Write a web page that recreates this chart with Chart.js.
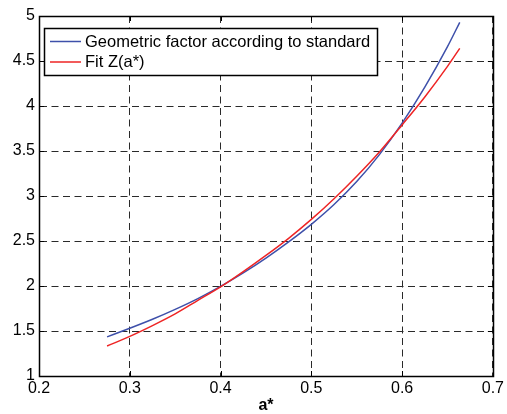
<!DOCTYPE html>
<html><head><meta charset="utf-8">
<script src="https://cdn.jsdelivr.net/npm/chart.js@4.4.0/dist/chart.umd.min.js"></script>
<style>html,body{margin:0;padding:0;background:#fff;}</style>
</head><body>
<canvas id="c" width="507" height="414" style="display:block;width:507px;height:414px"></canvas>
<script>
// ---- data ----
const aValues        = [0.275, 0.30, 0.325, 0.35, 0.375, 0.40, 0.425, 0.45, 0.475, 0.50, 0.525, 0.55, 0.575, 0.60, 0.625, 0.65, 0.6635];
const standardValues = [1.435, 1.53, 1.63, 1.74, 1.86, 1.995, 2.145, 2.31, 2.49, 2.685, 2.905, 3.16, 3.46, 3.81, 4.21, 4.66, 4.93];
const fitValues      = [1.333, 1.44, 1.56, 1.69, 1.84, 1.99, 2.16, 2.34, 2.53, 2.74, 2.97, 3.22, 3.49, 3.79, 4.10, 4.44, 4.64];
const xTicks = [0.2, 0.3, 0.4, 0.5, 0.6, 0.7];
const yTicks = [1, 1.5, 2, 2.5, 3, 3.5, 4, 4.5, 5];
const seriesLabels = ['Geometric factor according to standard', 'Fit Z(a*)'];
const seriesColors = ['rgb(62,80,170)', 'rgb(238,36,36)'];
const xTitle = 'a*';

const FONT = '"Liberation Sans", Arial, sans-serif';

const toPoints = vals => aValues.map((a, i) => ({x: a, y: vals[i]}));

const framePlugin = {
  id: 'frame',
  afterDraw(chart) {
    const {ctx, chartArea: {left, right, top, bottom}, scales: {x, y}} = chart;
    ctx.save();
    ctx.setLineDash([]);
    ctx.strokeStyle = '#000';
    ctx.lineWidth = 1;
    ctx.beginPath();
    xTicks.forEach(v => {
      const px = Math.round(x.getPixelForValue(v)) + 0.5;
      ctx.moveTo(px, bottom); ctx.lineTo(px, bottom - 5);
      ctx.moveTo(px, top); ctx.lineTo(px, top + 5);
    });
    yTicks.forEach(v => {
      const py = Math.round(y.getPixelForValue(v)) + 0.5;
      ctx.moveTo(left, py); ctx.lineTo(left + 5, py);
      ctx.moveTo(right, py); ctx.lineTo(right - 5, py);
    });
    ctx.stroke();
    ctx.lineWidth = 1.5;
    ctx.strokeRect(Math.round(left) + 0.5, Math.round(top) + 0.5, Math.round(right - left), Math.round(bottom - top));

    // legend box
    const bx = left + 5, by = top + 12, bw = 333, bh = 47;
    ctx.fillStyle = '#fff';
    ctx.fillRect(bx, by, bw, bh);
    ctx.lineWidth = 1.5;
    ctx.strokeStyle = '#000';
    ctx.strokeRect(bx + 0.5, by + 0.5, bw, bh);
    ctx.font = '16.5px ' + FONT;
    ctx.textBaseline = 'middle';
    ctx.textAlign = 'left';
    seriesLabels.forEach((lab, i) => {
      const ly = by + 13.5 + i * 20.5;
      ctx.strokeStyle = seriesColors[i];
      ctx.lineWidth = 1.5;
      ctx.beginPath();
      ctx.moveTo(bx + 6, ly); ctx.lineTo(bx + 37, ly);
      ctx.stroke();
      ctx.fillStyle = '#000';
      ctx.fillText(lab, bx + 41, ly + 0.5);
    });
    ctx.restore();
  }
};

const gridCommon = {
  color: '#2a2a2a',
  lineWidth: 1,
  drawTicks: false,
};

new Chart(document.getElementById('c'), {
  type: 'scatter',
  data: {
    datasets: [
      {label: seriesLabels[0], data: toPoints(standardValues), showLine: true, borderColor: seriesColors[0], borderWidth: 1.5, pointRadius: 0, cubicInterpolationMode: 'monotone', order: 1},
      {label: seriesLabels[1], data: toPoints(fitValues), showLine: true, borderColor: seriesColors[1], borderWidth: 1.5, pointRadius: 0, cubicInterpolationMode: 'monotone', order: 0}
    ]
  },
  options: {
    responsive: false,
    animation: false,
    devicePixelRatio: 1,
    layout: {padding: {top: 16, right: 12, left: 0, bottom: 0}},
    plugins: {legend: {display: false}, tooltip: {enabled: false}},
    scales: {
      x: {
        type: 'linear', min: 0.2, max: 0.7,
        afterBuildTicks: s => { s.ticks = xTicks.map(v => ({value: v})); },
        afterFit: s => { s.height = 38; },
        grid: gridCommon,
        border: {display: true, color: '#000', width: 1, dash: [7, 4.5]},
        ticks: {color: '#000', font: {family: FONT, size: 16}, padding: 3, maxRotation: 0, callback: v => String(v)},
        title: {display: true, text: xTitle, color: '#000', font: {family: FONT, size: 16, weight: 'bold'}, padding: {top: 0, bottom: -1}}
      },
      y: {
        type: 'linear', min: 1, max: 5,
        afterBuildTicks: s => { s.ticks = yTicks.map(v => ({value: v})); },
        afterFit: s => { s.width = 39; },
        grid: gridCommon,
        border: {display: true, color: '#000', width: 1, dash: [7, 4.5]},
        ticks: {color: '#000', font: {family: FONT, size: 16}, padding: 4, callback: v => String(v)}
      }
    }
  },
  plugins: [framePlugin]
});
</script>
</body></html>
